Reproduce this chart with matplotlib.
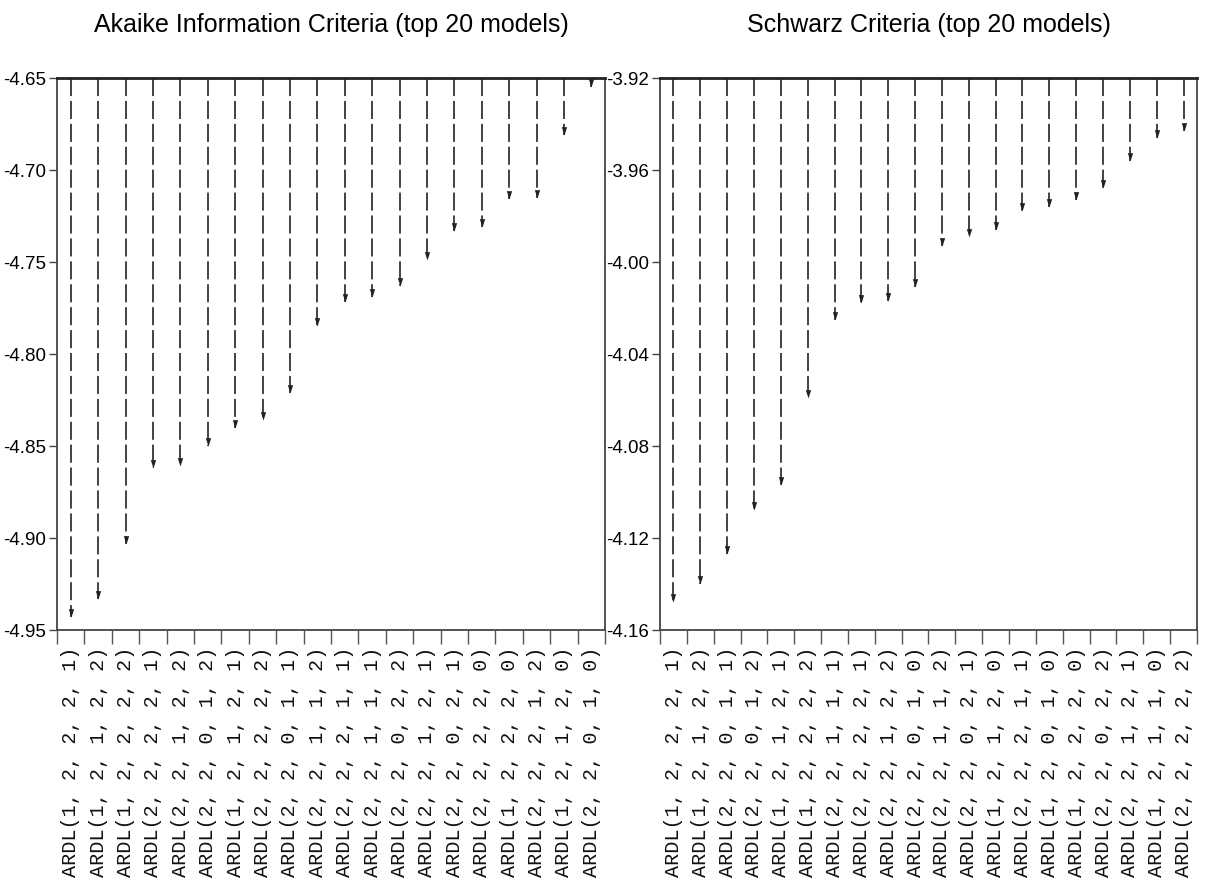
import matplotlib
matplotlib.use("Agg")
import matplotlib.pyplot as plt
import numpy as np

plt.rcParams['lines.scale_dashes'] = False

aic_models = [
    "ARDL(1, 2, 2, 2, 1)", "ARDL(1, 2, 1, 2, 2)", "ARDL(1, 2, 2, 2, 2)", "ARDL(2, 2, 2, 2, 1)",
    "ARDL(2, 2, 1, 2, 2)", "ARDL(2, 2, 0, 1, 2)", "ARDL(1, 2, 1, 2, 1)", "ARDL(2, 2, 2, 2, 2)",
    "ARDL(2, 2, 0, 1, 1)", "ARDL(2, 2, 1, 1, 2)", "ARDL(2, 2, 2, 1, 1)", "ARDL(2, 2, 1, 1, 1)",
    "ARDL(2, 2, 0, 2, 2)", "ARDL(2, 2, 1, 2, 1)", "ARDL(2, 2, 0, 2, 1)", "ARDL(2, 2, 2, 2, 0)",
    "ARDL(1, 2, 2, 2, 0)", "ARDL(2, 2, 2, 1, 2)", "ARDL(1, 2, 1, 2, 0)", "ARDL(2, 2, 0, 1, 0)",
]
aic_values = [-4.943, -4.933, -4.903, -4.862, -4.861, -4.850, -4.840, -4.836, -4.821, -4.785,
              -4.772, -4.769, -4.763, -4.749, -4.733, -4.731, -4.716, -4.715, -4.681, -4.655]

sc_models = [
    "ARDL(1, 2, 2, 2, 1)", "ARDL(1, 2, 1, 2, 2)", "ARDL(2, 2, 0, 1, 1)", "ARDL(2, 2, 0, 1, 2)",
    "ARDL(1, 2, 1, 2, 1)", "ARDL(1, 2, 2, 2, 2)", "ARDL(2, 2, 1, 1, 1)", "ARDL(2, 2, 2, 2, 1)",
    "ARDL(2, 2, 1, 2, 2)", "ARDL(2, 2, 0, 1, 0)", "ARDL(2, 2, 1, 1, 2)", "ARDL(2, 2, 0, 2, 1)",
    "ARDL(1, 2, 1, 2, 0)", "ARDL(2, 2, 2, 1, 1)", "ARDL(1, 2, 0, 1, 0)", "ARDL(1, 2, 2, 2, 0)",
    "ARDL(2, 2, 0, 2, 2)", "ARDL(2, 2, 1, 2, 1)", "ARDL(1, 2, 1, 1, 0)", "ARDL(2, 2, 2, 2, 2)",
]
sc_values = [-4.148, -4.140, -4.127, -4.108, -4.097, -4.059, -4.025, -4.018, -4.017, -4.011,
             -3.993, -3.989, -3.986, -3.978, -3.976, -3.973, -3.968, -3.956, -3.946, -3.943]

aic_ticks = [-4.65, -4.70, -4.75, -4.80, -4.85, -4.90, -4.95]
aic_ticklabels = ["-4.65", "-4.70", "-4.75", "-4.80", "-4.85", "-4.90", "-4.95"]
sc_ticks = [-3.92, -3.96, -4.00, -4.04, -4.08, -4.12, -4.16]
sc_ticklabels = ["-3.92", "-3.96", "-4.00", "-4.04", "-4.08", "-4.12", "-4.16"]

title_font = ['Liberation Sans Narrow', 'Liberation Sans', 'DejaVu Sans']
label_font = ['Liberation Mono', 'DejaVu Sans Mono']

fig = plt.figure(figsize=(12.06, 8.88), dpi=100)
ax1 = fig.add_axes([57/1206, 1-630/888, 548/1206, 552/888])
ax2 = fig.add_axes([660/1206, 1-630/888, 537/1206, 552/888])

tip = [(0, 0), (-0.32, 1), (0.32, 1), (0, 0)]

def draw(ax, title, models, values, yt, ytl):
    n = len(models)
    x = np.arange(n)
    top, bottom = yt[0], yt[-1]
    ax.set_xlim(-0.5, n - 0.5)
    ax.set_ylim(bottom, top)
    ax.vlines(x, top, values, colors='#222222', linewidth=1.2,
              linestyles=[(0, (13, 3.5))])
    ax.plot(x, values, linestyle='none', marker=tip, markersize=12,
            color='#222222', markeredgewidth=0)
    ax.set_yticks(yt)
    ax.set_yticklabels(ytl, family=title_font, fontsize=13.5)
    ax.tick_params(axis='y', length=6, width=1, color='#444444', pad=2)
    ax.set_xticks(x)
    ax.set_xticklabels(models, rotation=90, family=label_font, fontsize=14.5,
                       color='#111111')
    ax.set_xticks(np.arange(n + 1) - 0.5, minor=True)
    ax.tick_params(axis='x', which='major', length=0, pad=12)
    ax.tick_params(axis='x', which='minor', length=10, width=1, color='#555555')
    for s in ['left', 'bottom', 'right']:
        ax.spines[s].set_linewidth(1.3)
        ax.spines[s].set_color('#444444')
    ax.spines['top'].set_linewidth(2.0)
    ax.spines['top'].set_color('#222222')
    ax.set_title(title, family=title_font, fontsize=18, pad=33)

draw(ax1, "Akaike Information Criteria (top 20 models)", aic_models, aic_values,
     aic_ticks, aic_ticklabels)
draw(ax2, "Schwarz Criteria (top 20 models)", sc_models, sc_values,
     sc_ticks, sc_ticklabels)

fig.savefig("out.png", dpi=100)
